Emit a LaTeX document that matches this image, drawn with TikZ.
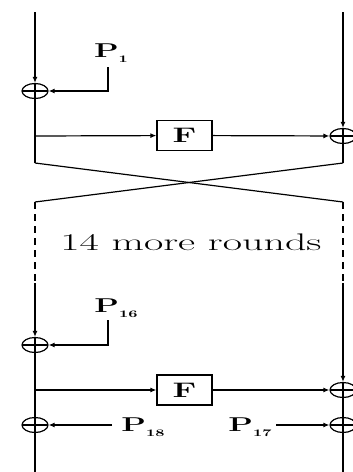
\documentclass[tikz,border=0pt]{standalone}
\usepackage{fontspec}
\setmainfont{Latin Modern Roman}
\usetikzlibrary{shapes.geometric,arrows.meta}
\begin{document}
\begin{tikzpicture}[x=1pt,y=-1pt,
  ln/.style={line width=1.2pt},
  arr/.style={ln,-{Latex[length=6pt,width=5pt]}},
  xorn/.style={ellipse,draw,line width=1.2pt,minimum width=26pt,minimum height=15pt,inner sep=0pt,
    path picture={\draw[line width=1.2pt] (path picture bounding box.north)--(path picture bounding box.south)
      (path picture bounding box.west)--(path picture bounding box.east);}},
  fbox/.style={draw,line width=1.2pt,minimum width=55pt,minimum height=30pt,inner sep=0pt,
    font=\fontsize{21}{24}\selectfont\bfseries},
  plab/.style={inner sep=0pt,font=\fontsize{20}{22}\selectfont\bfseries}
]
\useasboundingbox (0,0) rectangle (353,472);
\clip (0,0) rectangle (353,472);
\newcommand{\sx}[1]{\scalebox{1.6}[1]{#1}}
\newcommand{\plabel}[1]{\sx{P\raisebox{-0.5ex}{\fontsize{10}{11}\selectfont\bfseries #1}}}
% coordinates
\coordinate (lt) at (35,12);
\coordinate (rt) at (343,12);
\node[xorn] (x1) at (35,91) {};
\node[xorn] (x2) at (343,136) {};
\node[fbox] (f1) at (184.5,135.5) {\sx{F}};
\node[plab] (p1) at (111,53) {\plabel{1}};
\coordinate (p1a) at (108,67);
\coordinate (p1b) at (108,91);
\coordinate (b1) at (35,136);
\coordinate (c1) at (35,163);
\coordinate (c2) at (343,163);
\coordinate (c3) at (35,202);
\coordinate (c4) at (343,202);
\coordinate (d1) at (35,283);
\coordinate (d2) at (343,283);
\node[inner sep=0pt,font=\fontsize{24}{27}\selectfont] (txt) at (191,242) {\scalebox{1.75}[1]{14 more rounds}};
\node[xorn] (x3) at (35,345) {};
\node[xorn] (x4) at (343,390) {};
\node[fbox] (f2) at (184.5,390) {\sx{F}};
\node[plab] (p16) at (116,308) {\plabel{16}};
\coordinate (p16a) at (108,320);
\coordinate (p16b) at (108,345);
\coordinate (b2) at (35,390);
\node[xorn] (x5) at (35,425) {};
\node[xorn] (x6) at (343,425) {};
\node[plab] (p18) at (143,427) {\plabel{18}};
\node[plab] (p17) at (250,427) {\plabel{17}};
\coordinate (p18a) at (112,425);
\coordinate (p17a) at (276,425);
\coordinate (lb) at (35,478);
\coordinate (rb) at (343,478);
% round 1
\draw[arr] (lt) -- (x1);
\draw[arr] (p1a) -- (p1b) -- (x1);
\draw[ln] (x1) -- (c1);
\draw[arr] (b1) -- (f1);
\draw[arr] (f1) -- (x2);
\draw[arr] (rt) -- (x2);
\draw[ln] (x2) -- (c2);
\draw[ln] (c1) -- (c4);
\draw[ln] (c2) -- (c3);
\draw[ln,dash pattern=on 7pt off 5pt] (c3) -- (d1);
\draw[ln,dash pattern=on 7pt off 5pt] (c4) -- (d2);
% last round
\draw[arr] (d1) -- (x3);
\draw[arr] (p16a) -- (p16b) -- (x3);
\draw[ln] (x3) -- (x5);
\draw[arr] (b2) -- (f2);
\draw[arr] (f2) -- (x4);
\draw[arr] (d2) -- (x4);
\draw[ln] (x4) -- (x6);
\draw[arr] (p18a) -- (x5);
\draw[arr] (p17a) -- (x6);
\draw[arr] (x5) -- (lb);
\draw[arr] (x6) -- (rb);
\end{tikzpicture}
\end{document}
